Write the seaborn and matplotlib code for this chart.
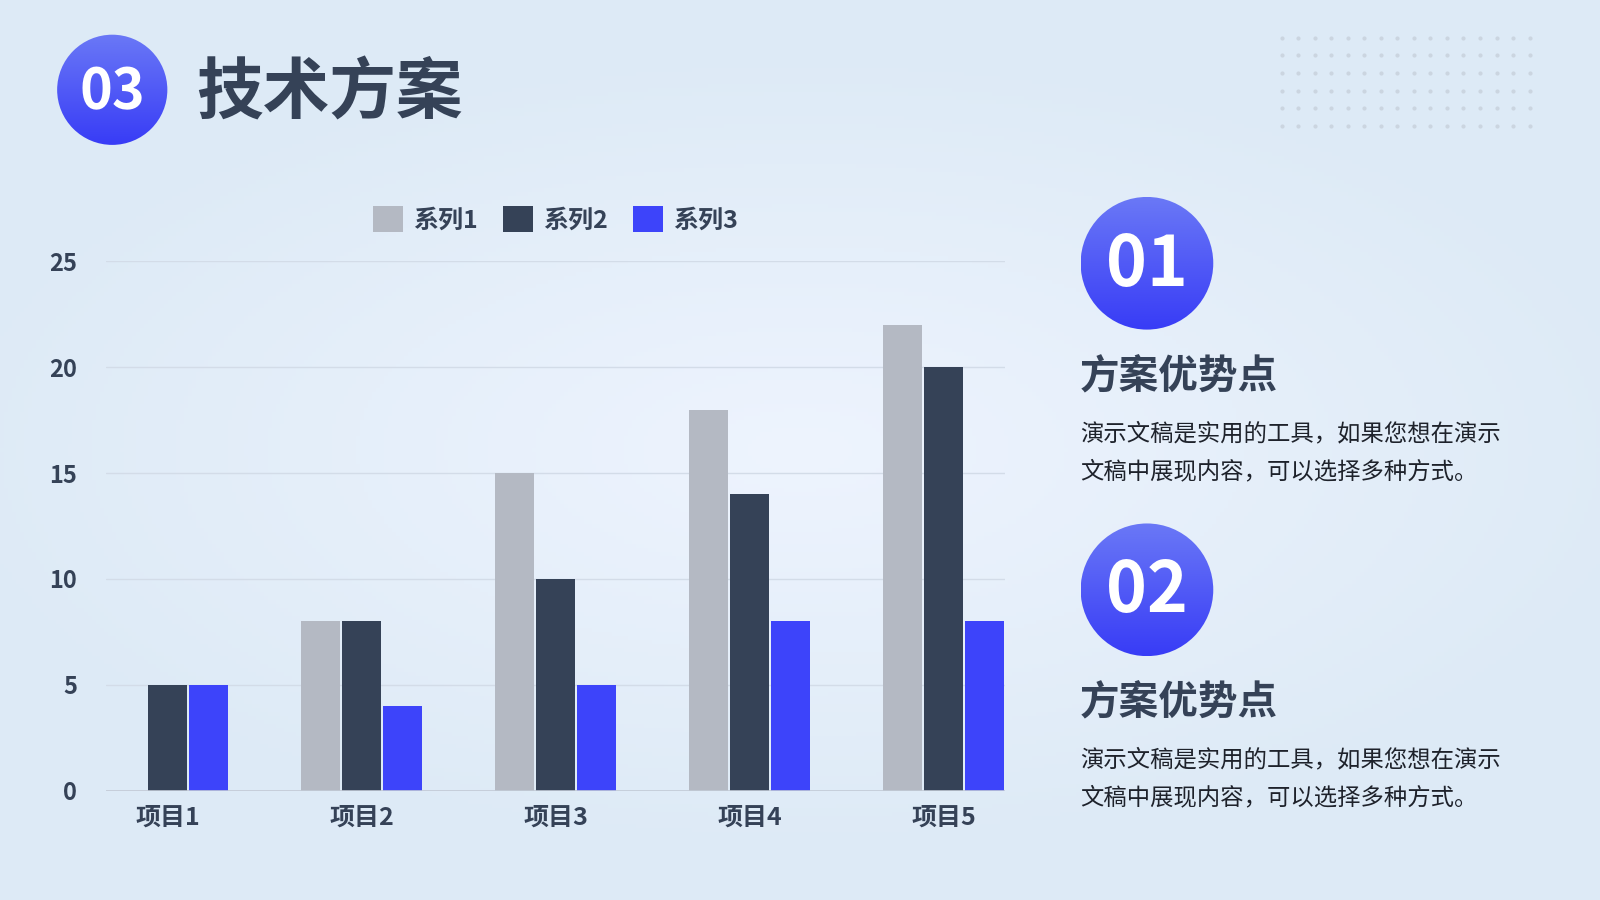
import numpy as np
import pandas as pd
import matplotlib.pyplot as plt
import seaborn as sns
from matplotlib.patches import Circle

# chart data
categories = ['项目1', '项目2', '项目3', '项目4', '项目5']
series_names = ['系列1', '系列2', '系列3']
series1 = [0, 8, 15, 18, 22]
series2 = [5, 8, 10, 14, 20]
series3 = [5, 4, 5, 8, 8]
y_ticks = [0, 5, 10, 15, 20, 25]

title_text = '技术方案'
point_title = '方案优势点'
point_body = ['演示文稿是实用的工具，如果您想在演示', '文稿中展现内容，可以选择多种方式。']

colors = ['#B4B9C3', '#354257', '#3D44FA']
dark = '#354257'

sns.set_theme(style='white')
plt.rcParams['font.family'] = ['Noto Sans CJK SC', 'DejaVu Sans']

df = pd.DataFrame({
    'cat': categories * 3,
    'series': sum([[s] * len(categories) for s in series_names], []),
    'value': series1 + series2 + series3,
})

W, H = 1568, 882  # reference pixel space
fig = plt.figure(figsize=(16, 9), dpi=100)

# background gradient
bg = fig.add_axes([0, 0, 1, 1])
bg.axis('off')
xx, yy = np.meshgrid(np.linspace(-1, 1, 400), np.linspace(-1, 1, 225))
r = np.clip(np.sqrt((xx * 0.9) ** 2 + (yy * 1.1) ** 2), 0, 1)
c0 = np.array([0xEE, 0xF4, 0xFE]) / 255
c1 = np.array([0xDD, 0xEA, 0xF6]) / 255
img = c0[None, None, :] * (1 - r[..., None]) + c1[None, None, :] * r[..., None]
bg.imshow(img, extent=[0, W, H, 0], aspect='auto', zorder=0)

# dot grid decoration
dx = np.arange(1256, 1500, 16.2)
dy = np.arange(37, 125, 17.3)
gx, gy = np.meshgrid(dx, dy)
bg.scatter(gx.ravel(), gy.ravel(), s=9, color='#CBD5E0', zorder=1, linewidths=0)


def badge(cx, cy, rad, label, size):
    grad = np.linspace(0, 1, 256)[:, None]
    top = np.array([0x6A, 0x78, 0xF6]) / 255
    bot = np.array([0x38, 0x3C, 0xF6]) / 255
    g = top[None, None, :] * (1 - grad[..., None]) + bot[None, None, :] * grad[..., None]
    g = np.repeat(g, 2, axis=1)
    im = bg.imshow(g, extent=[cx - rad, cx + rad, cy + rad, cy - rad], aspect='auto', zorder=2)
    clip = Circle((cx, cy), rad, transform=bg.transData, facecolor='none', edgecolor='none')
    bg.add_patch(clip)
    im.set_clip_path(clip)
    bg.text(cx, cy + 2, label, color='white', fontsize=size, fontweight='black',
            ha='center', va='center', zorder=3)


badge(110, 88, 54, '03', 40)
bg.text(192, 92, title_text, fontsize=48, fontweight='black', color=dark,
        ha='left', va='center', zorder=3)

for n, cy in enumerate((258, 578)):
    badge(1124, cy, 65, '0%d' % (n + 1), 50)
    bg.text(1058, cy + 110, point_title, fontsize=28.5, fontweight='black', color=dark,
            ha='left', va='center', zorder=3)
    for i, line in enumerate(point_body):
        bg.text(1059, cy + 167 + i * 37, line, fontsize=16.8, color='#1E222B',
                ha='left', va='center', zorder=3)
bg.set_xlim(0, W)
bg.set_ylim(H, 0)

# bar chart
ax = fig.add_axes([104 / W, 1 - 775 / H, (985 - 104) / W, (775 - 256) / H])
ax.set_facecolor('none')
sns.barplot(data=df, x='cat', y='value', hue='series', palette=colors,
            width=0.632, gap=0.05, ax=ax, saturation=1, linewidth=0, zorder=3)
ax.set_xlim(-0.316, 4.316)
ax.set_ylim(0, 25)
ax.set_yticks(y_ticks)
ax.grid(axis='y', color='#D3DCE8', linewidth=1, zorder=0)
ax.axhline(0, color='#C2CAD6', linewidth=1.2, zorder=4)
for s in ax.spines.values():
    s.set_visible(False)
ax.set_xlabel('')
ax.set_ylabel('')
ax.tick_params(axis='y', length=0, pad=21, labelsize=17, labelcolor=dark)
ax.tick_params(axis='x', length=0, pad=11, labelsize=18, labelcolor=dark)
ax.set_xticks(range(len(categories)))
ax.set_xticklabels(categories)
for t in ax.get_yticklabels() + ax.get_xticklabels():
    t.set_fontweight('black')

leg = ax.legend(loc='center', bbox_to_anchor=(0.5, 1.079), ncol=3, frameon=False,
                handlelength=1.2, handleheight=1.2, handletextpad=0.4,
                columnspacing=1.0, prop={'weight': 'black', 'size': 18})
for t in leg.get_texts():
    t.set_color(dark)

fig.savefig('out.png', dpi=100)
